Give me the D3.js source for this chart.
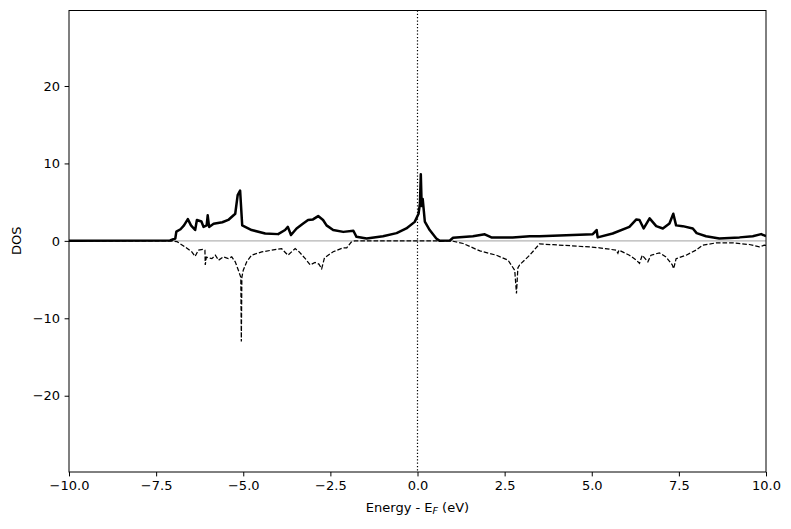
<!DOCTYPE html>
<html>
<head>
<meta charset="utf-8">
<script src="https://cdn.jsdelivr.net/npm/d3@7"></script>
<style>
	body { margin: 0; background: #fff; }
	text { font-family: "DejaVu Sans", sans-serif; fill: #000; }
</style>
</head>
<body>
<div id="canvas"></div>
<script>
// spin up (solid) and spin down (dashed) DOS
var energyUp = [-10, -7.1, -6.95, -6.92, -6.8, -6.7, -6.59, -6.5, -6.38, -6.33, -6.2, -6.14, -6.05, -6.02, -5.98,
	-5.85, -5.6, -5.43, -5.23, -5.16, -5.09, -5.03, -4.76, -4.37, -4.0, -3.8, -3.72, -3.63, -3.47, -3.28, -3.14,
	-3.0, -2.85, -2.71, -2.61, -2.42, -2.13, -1.84, -1.75, -1.46, -0.99, -0.6, -0.32, -0.08, 0.03, 0.07, 0.095,
	0.12, 0.15, 0.21, 0.35, 0.54, 0.64, 0.93, 1.02, 1.59, 1.93, 2.12, 2.73, 3.22, 3.5, 5.03, 5.14, 5.17, 5.6,
	6.08, 6.28, 6.37, 6.49, 6.66, 6.85, 7.04, 7.23, 7.34, 7.42, 7.61, 7.9, 8.01, 8.28, 8.66, 9.24, 9.62, 9.86, 10];
var dosUp = [0, 0.05, 0.3, 1.2, 1.5, 2.0, 2.8, 2.0, 1.4, 2.7, 2.5, 1.8, 2.0, 3.3, 1.8,
	2.2, 2.4, 2.7, 3.5, 5.9, 6.5, 2.0, 1.4, 0.95, 0.87, 1.4, 1.8, 0.75, 1.6, 2.25, 2.7,
	2.77, 3.2, 2.7, 2.0, 1.4, 1.16, 1.3, 0.52, 0.3, 0.6, 1.0, 1.6, 2.45, 3.5, 4.8, 8.6,
	4.5, 5.4, 2.5, 1.4, 0.3, 0.0, 0.05, 0.4, 0.6, 0.85, 0.45, 0.45, 0.6, 0.6, 0.87, 1.4, 0.45, 0.95,
	1.8, 2.77, 2.7, 1.6, 2.9, 1.9, 1.6, 2.25, 3.5, 2.0, 1.9, 1.6, 1.0, 0.6, 0.3, 0.45, 0.6, 0.87, 0.6];

var energyDown = [-10, -7.1, -6.9, -6.67, -6.48, -6.38, -6.29, -6.14, -6.1, -6.09, -6.06, -5.9, -5.8, -5.71,
	-5.57, -5.43, -5.33, -5.23, -5.14, -5.07, -5.055, -5.04, -5.0, -4.9, -4.76, -4.47, -4.18, -3.9, -3.72,
	-3.51, -3.4, -3.22, -3.08, -2.94, -2.83, -2.75, -2.67, -2.42, -2.13, -2.03, -1.9, -1.8, 0.9, 1.02, 1.31,
	1.79, 2.26, 2.6, 2.79, 2.84, 2.88, 2.93, 3.22, 3.5, 3.89, 4.94, 5.22, 5.7, 5.75, 5.78, 6.08, 6.28, 6.37,
	6.45, 6.61, 6.7, 6.94, 7.13, 7.31, 7.35, 7.42, 7.71, 7.99, 8.18, 8.57, 9.04, 9.52, 9.81, 9.95, 10];
var dosDown = [0, 0, -0.1, -0.78, -1.4, -2.0, -1.2, -1.1, -1.2, -3.1, -2.1, -2.3, -1.85, -2.5,
	-2.07, -2.3, -2.07, -2.7, -3.8, -4.7, -13.0, -4.7, -3.8, -2.7, -1.85, -1.42, -1.2, -1.0, -1.85,
	-1.0, -1.4, -2.3, -3.1, -2.8, -3.0, -3.6, -2.2, -1.4, -0.9, -0.9, -0.15, 0, 0, -0.05, -0.34,
	-1.3, -1.85, -2.5, -3.8, -6.8, -3.5, -3.1, -1.85, -0.4, -0.5, -0.78, -0.9, -1.2, -1.6, -1.2, -1.85, -2.5, -2.9,
	-1.85, -2.7, -1.85, -1.55, -2.07, -3.1, -3.6, -2.3, -1.85, -1.2, -0.56, -0.26, -0.26, -0.47, -0.78, -0.56, -0.6];

var xTicks = [-10, -7.5, -5, -2.5, 0, 2.5, 5, 7.5, 10];
var yTicks = [-20, -10, 0, 10, 20];

var w = 791, h = 529;
var mLeft = 69, mRight = 766, mTop = 10.5, mBottom = 472;

var svg = d3.select("#canvas")
	.append("svg")
	.attr("width", w)
	.attr("height", h);

var xScale = d3.scaleLinear()
	.domain([-10, 10])
	.range([mLeft, mRight]);

var yScale = d3.scaleLinear()
	.domain([-29.85, 29.75])
	.range([mBottom, mTop]);

var minus = function(s){ return s.replace("-", "\u2212"); };

svg.append("defs").append("clipPath")
	.attr("id", "clip")
	.append("rect")
	.attr("x", mLeft)
	.attr("y", mTop)
	.attr("width", mRight - mLeft)
	.attr("height", mBottom - mTop);

var plot = svg.append("g").attr("clip-path", "url(#clip)");

// zero line
plot.append("line")
	.attr("x1", mLeft)
	.attr("x2", mRight)
	.attr("y1", yScale(0))
	.attr("y2", yScale(0))
	.attr("stroke", "#b4b4b4")
	.attr("stroke-width", 1.2);

// fermi level
plot.append("line")
	.attr("x1", xScale(0))
	.attr("x2", xScale(0))
	.attr("y1", mTop)
	.attr("y2", mBottom)
	.attr("stroke", "#000")
	.attr("stroke-width", 1.2)
	.attr("stroke-dasharray", "1.25,2.05");

var line = d3.line()
	.x(function(d){ return xScale(d[0]); })
	.y(function(d){ return yScale(d[1]); });

plot.append("path")
	.datum(d3.zip(energyDown, dosDown))
	.attr("d", line)
	.attr("fill", "none")
	.attr("stroke", "#000")
	.attr("stroke-width", 1.25)
	.attr("stroke-dasharray", "4.6,2");

plot.append("path")
	.datum(d3.zip(energyUp, dosUp))
	.attr("d", line)
	.attr("fill", "none")
	.attr("stroke", "#000")
	.attr("stroke-width", 2.5)
	.attr("stroke-linejoin", "round");

// axes
var xAxis = svg.append("g")
	.attr("transform", "translate(0," + mBottom + ")")
	.call(d3.axisBottom(xScale).tickValues(xTicks).tickSize(4.4).tickPadding(4.5)
		.tickFormat(function(d){ return minus(d3.format(".1f")(d)); }));

var yAxis = svg.append("g")
	.attr("transform", "translate(" + mLeft + ",0)")
	.call(d3.axisLeft(yScale).tickValues(yTicks).tickSize(4.4).tickPadding(4.5)
		.tickFormat(function(d){ return minus(d3.format("d")(d)); }));

[xAxis, yAxis].forEach(function(a){
	a.select(".domain").remove();
	a.selectAll(".tick line").attr("stroke", "#000").attr("stroke-width", 1);
	a.selectAll(".tick text")
		.attr("font-family", "DejaVu Sans")
		.attr("font-size", 13)
		.attr("fill", "#000");
});

svg.append("rect")
	.attr("x", mLeft)
	.attr("y", mTop)
	.attr("width", mRight - mLeft)
	.attr("height", mBottom - mTop)
	.attr("fill", "none")
	.attr("stroke", "#000")
	.attr("stroke-width", 1);

var xl = svg.append("text")
	.attr("x", (mLeft + mRight) / 2)
	.attr("y", 512)
	.attr("text-anchor", "middle")
	.attr("font-size", 13);
xl.append("tspan").text("Energy - E");
xl.append("tspan").attr("font-size", 9.5).attr("font-style", "italic").attr("dy", 2).text("F");
xl.append("tspan").attr("dy", -2).text(" (eV)");

svg.append("text")
	.attr("transform", "translate(21," + yScale(0) + ") rotate(-90)")
	.attr("text-anchor", "middle")
	.attr("font-size", 13)
	.text("DOS");
</script>
</body>
</html>
